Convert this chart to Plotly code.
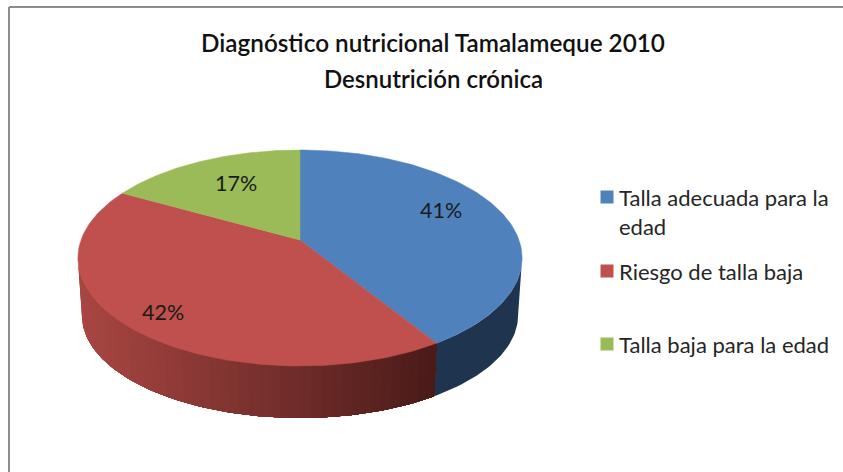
import numpy as np
import plotly.graph_objects as go

categories = ["Talla adecuada para la<br>edad", "Riesgo de talla baja", "Talla baja para la edad"]
percentages = [41, 42, 17]
colors = ["#4F81BD", "#C0504D", "#9BBB59"]
title_lines = ["Diagnóstico nutricional Tamalameque 2010", "Desnutrición crónica"]

FONT = "Lato, Carlito, Calibri, sans-serif"
CX = 300.0
K = -1 / 6
TOP = dict(c=219.0, a=65.0, b=240.0)
BOTTOM = dict(c=215.0, a=49.9, b=298.4)


def project(theta, r=1.0, plane=TOP):
    u = r * np.sin(theta)
    v = -r * np.cos(theta)
    d = 1 + K * v
    return CX + plane["c"] * u / d, (plane["a"] * v + plane["b"]) / d


def mix(c1, c2, t):
    return "rgb(%d,%d,%d)" % tuple(round(a + (b - a) * t) for a, b in zip(c1, c2))


def wall(t_from, t_to, col):
    arc = np.linspace(t_from, t_to, max(2, int(abs(t_to - t_from) / 0.02)))
    xa, ya = project(arc)
    xb, yb = project(arc[::-1], plane=BOTTOM)
    fig.add_trace(go.Scatter(
        x=np.concatenate([xa, xb]), y=np.concatenate([ya, yb]),
        mode="lines", fill="toself", fillcolor=col,
        line=dict(color=col, width=0), hoverinfo="skip", showlegend=False))


fractions = np.array(percentages) / sum(percentages)
edges = np.concatenate([[0], np.cumsum(fractions)]) * 2 * np.pi

fig = go.Figure()

# side wall: every band runs on to the slice edge, so later bands paint over
# earlier ones and no seams show between them
split = edges[1]
wall(np.radians(99.6), split, "#1F344F")
far = np.radians(260.4)
x_left, x_right = project(far)[0], project(split)[0]
for t in np.linspace(far, split, 50)[:-1]:
    s = (project(t)[0] - x_left) / (x_right - x_left)
    wall(t, split, mix((168, 70, 66), (72, 26, 24), float(np.clip(s, 0, 1))))

# top face
cx0, cy0 = project(0.0, 0.0)
for i, col in enumerate(colors):
    arc = np.linspace(edges[i], edges[i + 1], 120)
    xs, ys = project(arc)
    fig.add_trace(go.Scatter(
        x=np.concatenate([[cx0], xs, [cx0]]), y=np.concatenate([[cy0], ys, [cy0]]),
        mode="lines", fill="toself", fillcolor=col, line=dict(color=col, width=0.5),
        name=categories[i].replace("<br>", " "), showlegend=False))

annotations = []
nudges = [(-2, 10), (-22, -13), (7, 0)]
for i, pct in enumerate(percentages):
    mid = (edges[i] + edges[i + 1]) / 2
    lx, ly = project(mid, 0.7)
    annotations.append(dict(x=lx, y=ly, xref="x", yref="y", text=f"{pct}%", showarrow=False,
                            xshift=nudges[i][0], yshift=nudges[i][1],
                            font=dict(family=FONT, size=21.5, color="#1a1a1a")))

# legend
legend_x = [607, 607, 607]
legend_y = [197, 271, 344]
fig.add_trace(go.Scatter(x=legend_x, y=legend_y, mode="markers", hoverinfo="skip", showlegend=False,
                         marker=dict(symbol="square", size=13, color=colors)))
for cat, y in zip(categories, legend_y):
    two_lines = "<br>" in cat
    annotations.append(dict(x=617, y=y, xref="x", yref="y", text=cat, showarrow=False,
                            xanchor="left", yanchor="top" if two_lines else "middle",
                            yshift=15 if two_lines else 0, align="left",
                            font=dict(family=FONT, size=22, color="#262626")))

annotations.append(dict(x=433, y=78, xref="x", yref="y", text=title_lines[1], showarrow=False,
                        font=dict(family=FONT, size=24, color="#111111", weight=600)))

fig.update_layout(
    width=843, height=472, margin=dict(l=0, r=0, t=0, b=0, autoexpand=False),
    paper_bgcolor="white", plot_bgcolor="white", showlegend=False,
    title=dict(text=title_lines[0], x=433 / 843, xanchor="center", y=1 - 43 / 472, yanchor="middle",
               font=dict(family=FONT, size=24.3, color="#111111", weight=600)),
    xaxis=dict(range=[0, 843], visible=False, domain=[0, 1], fixedrange=True),
    yaxis=dict(range=[472, 0], visible=False, domain=[0, 1], fixedrange=True),
    annotations=annotations,
    shapes=[
        dict(type="line", xref="x", yref="y", x0=9, x1=843, y0=7, y1=7, line=dict(color="#8c8c8c", width=2)),
        dict(type="line", xref="x", yref="y", x0=9, x1=9, y0=7, y1=472, line=dict(color="#8c8c8c", width=2)),
    ],
)
fig.write_html("out.html", config=dict(displayModeBar=False),
               post_script="document.body.style.margin='0';")
